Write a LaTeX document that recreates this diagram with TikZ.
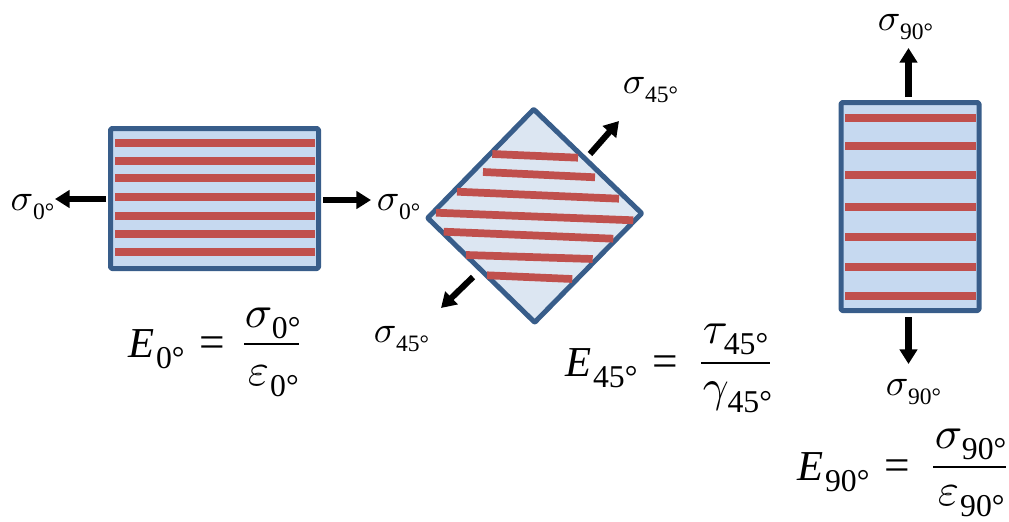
\documentclass[tikz,border=0pt]{standalone}
\usepackage{fontspec}
\usetikzlibrary{arrows.meta}
\newfontfamily\digs{Liberation Serif}
\def\dgsize{7}
\newcommand\dg[1]{\hbox{\kern0.25pt\digs\fontsize{\dgsize}{8}\selectfont\lower1.1pt\hbox{#1}}}
\newcommand\Eq{\hbox{\digs\itshape\fontsize{9.4}{11}\selectfont E}}
\newcommand\Qe{\hbox{\digs =}}
\definecolor{edgeblue}{HTML}{385D8A}
\definecolor{fillA}{HTML}{C6D9F0}
\definecolor{fillB}{HTML}{DCE6F2}
\definecolor{stripe}{HTML}{C0504D}
\tikzset{
  panel/.style={draw=edgeblue,line width=3.75pt,rounded corners=1pt,line join=round},
  fibre/.style={draw=stripe,line width=5.8pt},
  force/.style={draw=black,line width=4.6pt,-{Triangle[length=11pt,width=13pt]}},
  lbl/.style={inner sep=0pt,anchor=base west,scale=2.8,transform shape,execute at begin node={\def\dgsize{6.3}}},
  eqn/.style={inner sep=0pt,anchor=base west,scale=3.4,transform shape,execute at begin node={\def\dgsize{7}}},
  frac/.style={draw=black,line width=2pt},
}
\begin{document}
\begin{tikzpicture}[x=0.75pt,y=-0.75pt]
\useasboundingbox (0,0) rectangle (1009,521);
% ---------- 0 degree panel
\coordinate (a1) at (110.5,128.5);
\coordinate (a2) at (318.5,268.5);
\path[panel,fill=fillA] (a1) rectangle (a2);
\foreach \y [count=\i] in {143.3,160.7,178,197.3,215.7,233.7,252}{
  \coordinate (as\i) at (115,\y);
  \coordinate (ae\i) at (315,\y);
  \draw[fibre] (as\i) -- (ae\i);
}
\coordinate (af1s) at (106,199);
\coordinate (af1e) at (55,199);
\coordinate (af2s) at (323,200);
\coordinate (af2e) at (371,200);
\draw[force] (af1s) -- (af1e);
\draw[force] (af2s) -- (af2e);
\node[lbl] (sa1) at (10,210) {$\sigma_{\dg{0°}}$};
\node[lbl] (sa2) at (376,210) {$\sigma_{\dg{0°}}$};
\node[eqn] (ea) at (128,357) {$\Eq_{\dg{0°}}\;\Qe$};
\node[eqn] (ean) at (244,327) {$\sigma_{\dg{0°}}$};
\node[eqn] (ead) at (247,385) {$\varepsilon_{\dg{0°}}$};
\coordinate (eal) at (244,344);
\coordinate (ear) at (299,344);
\draw[frac] (eal) -- (ear);
% ---------- 45 degree panel
\coordinate (b1) at (533.7,109.3);
\coordinate (b2) at (641.7,213.3);
\coordinate (b3) at (534.7,322.3);
\coordinate (b4) at (427.7,218);
\draw[panel,fill=fillB,rounded corners=0.5pt] (b1) -- (b2) -- (b3) -- (b4) -- cycle;
\foreach \xa/\ya/\xb/\yb [count=\i] in {
  492.3/154/578/157.7,
  483/172/595/177.3,
  457/191.7/619/198.7,
  436/212.7/633.3/220.3,
  443.7/231.7/613.3/238.7,
  466/255/592.7/259,
  487/275.3/572.3/279}{
  \coordinate (bs\i) at (\xa,\ya);
  \coordinate (be\i) at (\xb,\yb);
  \draw[fibre] (bs\i) -- (be\i);
}
\coordinate (bf1s) at (590,154);
\coordinate (bf1e) at (619,121);
\coordinate (bf2s) at (473,277);
\coordinate (bf2e) at (441,308);
\draw[force] (bf1s) -- (bf1e);
\draw[force] (bf2s) -- (bf2e);
\node[lbl] (sb1) at (622,93) {$\sigma_{\dg{45°}}$};
\node[lbl] (sb2) at (373,342) {$\sigma_{\dg{45°}}$};
\node[eqn] (eb) at (565,376) {$\Eq_{\dg{45°}}\;\Qe$};
\node[eqn] (ebn) at (702,343) {$\tau_{\dg{45°}}$};
\node[eqn] (ebd) at (702,401) {$\gamma_{\dg{45°}}$};
\coordinate (ebl) at (701,363);
\coordinate (ebr) at (770,363);
\draw[frac] (ebl) -- (ebr);
% ---------- 90 degree panel
\coordinate (c1) at (841,102.5);
\coordinate (c2) at (979,310.5);
\path[panel,fill=fillA] (c1) rectangle (c2);
\foreach \y [count=\i] in {118.3,146,175,206.7,236.7,266.7,296.3}{
  \coordinate (cs\i) at (845,\y);
  \coordinate (ce\i) at (976,\y);
  \draw[fibre] (cs\i) -- (ce\i);
}
\coordinate (cf1s) at (908.5,97);
\coordinate (cf1e) at (908.5,48);
\coordinate (cf2s) at (908.5,317);
\coordinate (cf2e) at (908.5,364);
\draw[force] (cf1s) -- (cf1e);
\draw[force] (cf2s) -- (cf2e);
\node[lbl] (sc1) at (877,30) {$\sigma_{\dg{90°}}$};
\node[lbl] (sc2) at (885,395) {$\sigma_{\dg{90°}}$};
\node[eqn] (ec) at (797,480) {$\Eq_{\dg{90°}}\;\Qe$};
\node[eqn] (ecn) at (934,448) {$\sigma_{\dg{90°}}$};
\node[eqn] (ecd) at (937,505) {$\varepsilon_{\dg{90°}}$};
\coordinate (ecl) at (933,467);
\coordinate (ecr) at (1006,467);
\draw[frac] (ecl) -- (ecr);
\end{tikzpicture}
\end{document}
